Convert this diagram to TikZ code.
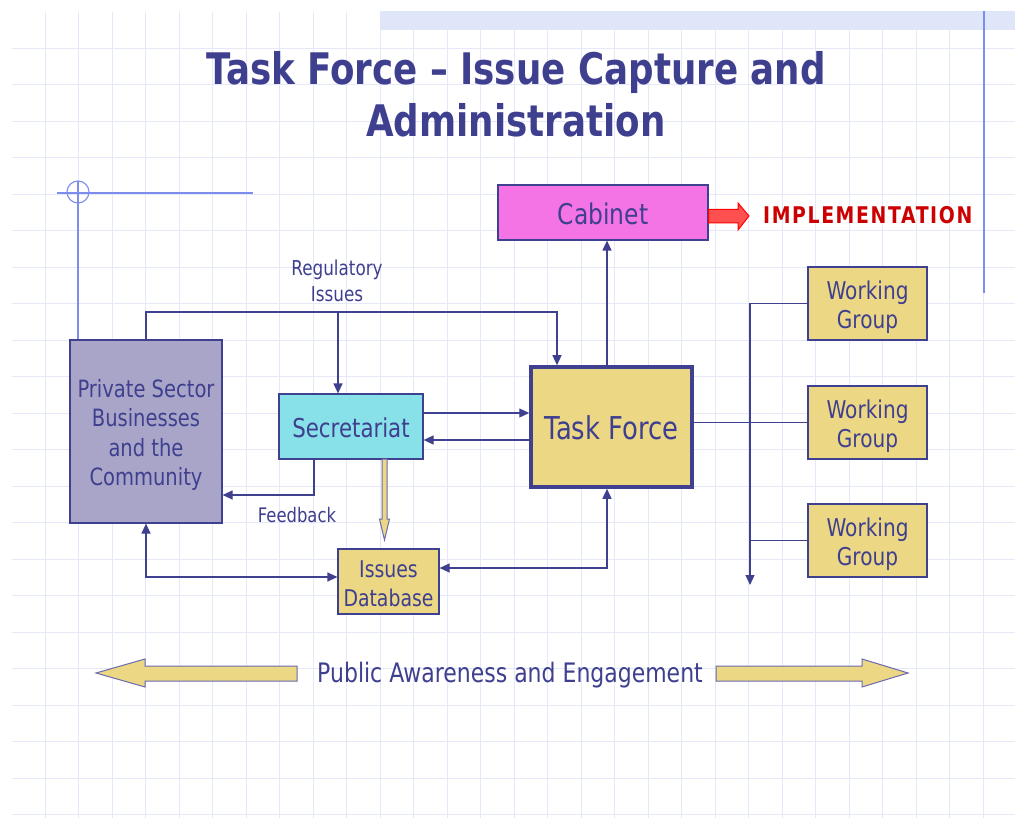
\documentclass[tikz,border=0pt]{standalone}
\usepackage{fontspec}
\setmainfont{DejaVu Sans}[FakeStretch=0.82]
\newfontfamily\implfont{DejaVu Sans Bold}[FakeStretch=0.82, LetterSpace=7]
\usetikzlibrary{arrows.meta}
\definecolor{ink}{HTML}{3F3F8F}
\definecolor{edgec}{HTML}{404090}
\definecolor{khaki}{HTML}{EBD784}
\definecolor{pinkc}{HTML}{F574E5}
\definecolor{cyanc}{HTML}{88E0E8}
\definecolor{lav}{HTML}{A8A5C9}
\definecolor{gridc}{HTML}{E4E8F8}
\definecolor{deco}{HTML}{7C8DEE}
\definecolor{band}{HTML}{E0E6FA}
\definecolor{implred}{HTML}{CC0000}
\definecolor{arrred}{HTML}{FF5050}
\definecolor{arrline}{HTML}{6A6AAE}
\tikzset{
  gridline/.style={draw=gridc, line width=0.9pt},
  decoline/.style={draw=deco, line width=1.1pt},
  box/.style={draw=edgec, line width=1.2pt, inner sep=0pt, align=center, text=ink},
  conn/.style={draw=edgec, line width=1.2pt},
  tip/.style={-{Triangle[length=10pt,width=9pt]}},
  tips/.style={{Triangle[length=10pt,width=9pt]}-{Triangle[length=10pt,width=9pt]}},
  label/.style={text=ink, align=center, inner sep=0pt},
  blockarrow/.style={fill=khaki, draw=arrline, line width=1pt, line join=miter},
}
\newcommand{\fs}[2]{\fontsize{#1}{#2}\selectfont}
\begin{document}
\begin{tikzpicture}[x=1pt,y=-1pt]
\useasboundingbox (0,0) rectangle (1015,818);
\fill[white] (0,0) rectangle (1015,818);
% grid
\foreach \i in {0,...,29} \draw[gridline] ({45+33.5*\i},12) -- ({45+33.5*\i},818);
\foreach \j in {0,...,21} \draw[gridline] (12,{48+36.5*\j}) -- (1015,{48+36.5*\j});
% top band and decorations
\fill[band] (380,11) rectangle (1015,30);
\draw[decoline] (984,11) -- (984,293);
\draw[decoline] (57,193) -- (253,193);
\draw[decoline] (78,192) circle (11);
\draw[decoline] (78,181) -- (78,340);
% title
\node[label, font=\bfseries\fs{43.5}{52}] (title) at (516,94) {Task Force -- Issue Capture and\\Administration};
% boxes
\node[box, fill=pinkc, minimum width=210pt, minimum height=55pt, font=\fs{28.5}{32}] (cab) at (603,212.5) {};
\node[label, font=\fs{28.5}{32}] (cabt) at (603,213.5) {Cabinet};
\node[box, fill=lav, minimum width=152pt, minimum height=183pt] (ps) at (146,431.5) {};
\node[label, font=\fs{23.8}{29.5}] (pst) at (146,435) {Private Sector\\Businesses\\and the\\Community};
\node[box, fill=cyanc, minimum width=144pt, minimum height=65pt] (sec) at (351,426.5) {};
\node[label, font=\fs{26}{30}] (sect) at (351,427.5) {Secretariat};
\node[box, fill=khaki, line width=3.5pt, minimum width=161pt, minimum height=120pt] (tf) at (611.5,427) {};
\node[label, font=\fs{31.5}{34}] (tft) at (611.5,428) {Task Force};
\foreach \n/\y in {1/303.5, 2/422.5, 3/540.5}{
  \node[box, fill=khaki, minimum width=119pt, minimum height=73pt] (wg\n) at (867.5,\y) {};
  \node[label, font=\fs{24.5}{29}] (wgt\n) at (867.5,\y+3.5) {Working\\Group};
}
\node[box, fill=khaki, minimum width=101pt, minimum height=65pt] (db) at (388.5,581.5) {};
\node[label, font=\fs{23}{29}] (dbt) at (388.5,584) {Issues\\Database};
% labels
\node[label, font=\fs{20.5}{26}] (reg) at (337,281) {Regulatory\\Issues};
\node[label, font=\fs{20}{24}] (fbl) at (297,515) {Feedback};
\node[label, anchor=west, text=implred, font=\implfont\fs{23}{26}] (impl) at (763,215) {IMPLEMENTATION};
\node[label, font=\fs{26.8}{30}] (pub) at (510,675) {Public Awareness and Engagement};
% implementation arrow
\draw[fill=arrred, draw=red, line width=1pt] (cab.east |- 0,209.5) -- (738,209.5) -- (738,203) -- (749,216) -- (738,230) -- (738,223) -- (cab.east |- 0,223) -- cycle;
% regulatory issues
\coordinate (r1) at (146,312);
\coordinate (r2) at (557,312);
\coordinate (rb) at (338,312);
\draw[conn, tip] (ps.north) -- (r1) -- (r2) -- (r2 |- tf.north);
\draw[conn, tip] (rb) -- (rb |- sec.north);
% secretariat <-> task force
\draw[conn, tip] ([yshift=13.5pt]sec.east) -- ([yshift=13.5pt]sec.east -| tf.west);
\draw[conn, tip] ([yshift=-13.5pt]sec.east -| tf.west) -- ([yshift=-13.5pt]sec.east);
% feedback
\coordinate (fb) at (314,495);
\draw[conn, tip] (fb |- sec.south) -- (fb) -- (fb -| ps.east);
% secretariat to database block arrow
\draw[blockarrow] (382,459) -- (387,459) -- (387,519) -- (389.5,519) -- (384.5,540) -- (379.5,519) -- (382,519) -- cycle;
% private sector <-> database
\coordinate (pd) at (146,577);
\draw[conn, tips] (ps.south) -- (pd) -- (pd -| db.west);
% task force <-> database
\coordinate (td) at (607,568);
\draw[conn, tips] (td |- tf.south) -- (td) -- (td -| db.east);
% task force -> cabinet
\coordinate (tc) at (607,300);
\draw[conn, tip] (tc |- tf.north) -- (tc |- cab.south);
% working groups
\coordinate (wv) at (750,303.5);
\coordinate (wb) at (750,585);
\draw[conn] (tf.east |- wg2.west) -- (wg2.west);
\draw[conn, tip] (wg1.west -| wv) -- (wb);
\draw[conn] (wg1.west -| wv) -- (wg1.west);
\draw[conn] (wg3.west -| wv) -- (wg3.west);
% public awareness block arrows
\draw[blockarrow] (297,666) -- (145,666) -- (145,659) -- (96,673) -- (145,687) -- (145,681) -- (297,681) -- cycle;
\draw[blockarrow] (716,666) -- (862,666) -- (862,659) -- (908,673) -- (862,687) -- (862,681) -- (716,681) -- cycle;
\end{tikzpicture}
\end{document}
